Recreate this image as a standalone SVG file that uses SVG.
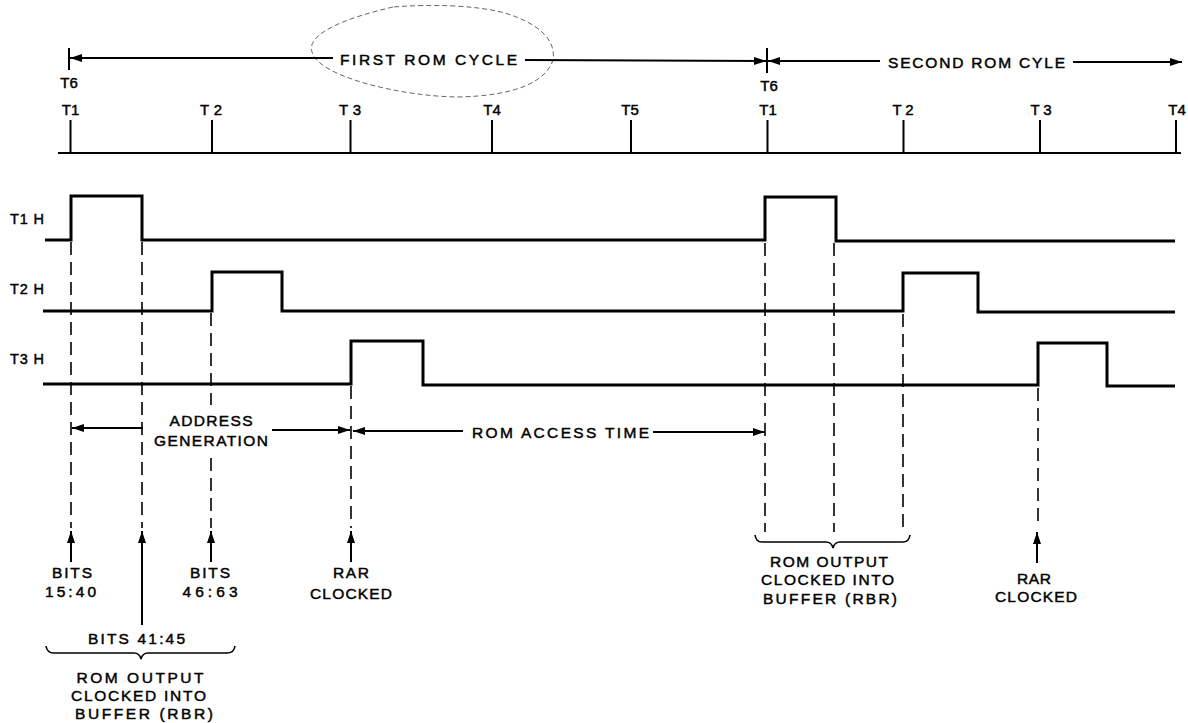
<svg xmlns="http://www.w3.org/2000/svg" width="1188" height="723" viewBox="0 0 1188 723">
<defs>
<style>
text{font-family:"Liberation Sans",Arial,sans-serif;font-size:15.5px;fill:#000;stroke:#000;stroke-width:0.45;text-anchor:middle}
.tl{font-size:15px}
.sl{font-size:14.5px;text-anchor:end}
.wave{fill:none;stroke:#000;stroke-width:3;stroke-linejoin:miter}
.ln{fill:none;stroke:#000;stroke-width:2}
.tick{fill:none;stroke:#000;stroke-width:2}
.dash{fill:none;stroke:#000;stroke-width:1.6;stroke-dasharray:13 7}
.arr{fill:none;stroke:#000;stroke-width:2;marker-end:url(#ah)}
.brace{fill:none;stroke:#000;stroke-width:1.6}
.oval{fill:none;stroke:#666;stroke-width:1;stroke-dasharray:5 3}
</style>
<marker id="ah" markerUnits="userSpaceOnUse" markerWidth="13" markerHeight="9" refX="12" refY="4.5" orient="auto" viewBox="0 0 13 9">
<path d="M0,0.5 L12,4.5 L0,8.5 Z" fill="#000"/>
</marker>
</defs>
<rect width="1188" height="723" fill="#fff"/>

<g id="cycle-header">
<path class="oval" d="M393,7 C345,18 306,34 312,52 C318,76 398,96 457,97 C515,96 546,82 553,60 C556,40 540,24 505,13 C475,5 430,4 393,7 Z"/>
<path class="tick" d="M69,48 V70 M767,48 V73"/>
<text x="428.5" y="65" textLength="177" lengthAdjust="spacing">FIRST  ROM CYCLE</text>
<text x="976.5" y="67.5" textLength="177" lengthAdjust="spacing">SECOND ROM CYLE</text>
<text class="tl" x="69" y="88">T6</text>
<text class="tl" x="769" y="90.5">T6</text>
</g>

<g id="timeline">
<path class="ln" d="M58,153 H1181" stroke-width="2.5"/>
<path class="tick" d="M70.5,120 V153 M212,120 V153 M350.5,120 V153 M492,120 V153 M631,120 V153 M767.5,120 V153 M903.5,120 V153 M1040,120 V153 M1176,120 V153"/>
<text class="tl" x="70.5" y="115">T1</text>
<text class="tl" x="211" y="115" textLength="22" lengthAdjust="spacing">T2</text>
<text class="tl" x="350" y="115" textLength="22" lengthAdjust="spacing">T3</text>
<text class="tl" x="492" y="115">T4</text>
<text class="tl" x="630" y="115">T5</text>
<text class="tl" x="768" y="115">T1</text>
<text class="tl" x="903" y="115" textLength="21" lengthAdjust="spacing">T2</text>
<text class="tl" x="1041" y="115" textLength="21" lengthAdjust="spacing">T3</text>
<text class="tl" x="1177" y="115">T4</text>
</g>

<g id="signal-t1h">
<text class="sl" x="44" y="224" textLength="34" lengthAdjust="spacing">T1 H</text>
<path class="wave" d="M45,240 H71 V196 H142 V240 H765 V197 H836 V241 H1175"/>
</g>
<g id="signal-t2h">
<text class="sl" x="44" y="294" textLength="34" lengthAdjust="spacing">T2 H</text>
<path class="wave" d="M43,311 H212 V272 H282 V311 H903 V273 H978 V312 H1175"/>
</g>
<g id="signal-t3h">
<text class="sl" x="44" y="364" textLength="34" lengthAdjust="spacing">T3 H</text>
<path class="wave" d="M43,384 H351 V341 H423 V385 H1038 V343 H1107 V386 H1175"/>
</g>

<g id="connectors">
<line class="arr" x1="333" y1="58" x2="70" y2="58"/>
<line class="arr" x1="525" y1="60" x2="766" y2="61"/>
<line class="arr" x1="880" y1="61" x2="768" y2="61"/>
<line class="arr" x1="1073" y1="62" x2="1182" y2="62"/>
<path class="dash" d="M71,242 V528 M142,242 V528 M211,313 V405 M211,458 V528 M351,386 V528 M765,243 V532 M834,243 V532 M903,314 V532 M1038,388 V528"/>
<line class="arr" x1="143" y1="428" x2="72" y2="428"/>
<line class="arr" x1="272" y1="430" x2="350" y2="430"/>
<line class="arr" x1="463" y1="431" x2="353" y2="431"/>
<line class="arr" x1="653" y1="432" x2="765" y2="432"/>
<line class="arr" x1="71" y1="562" x2="71" y2="531"/>
<line class="arr" x1="142" y1="625" x2="142" y2="531"/>
<line class="arr" x1="211" y1="562" x2="211" y2="531"/>
<line class="arr" x1="351" y1="562" x2="351" y2="531"/>
<line class="arr" x1="1037" y1="563" x2="1037" y2="532"/>
</g>

<g id="label-address-generation">
<text x="211" y="425.5" textLength="83" lengthAdjust="spacing">ADDRESS</text>
<text x="211" y="445.5" textLength="114" lengthAdjust="spacing">GENERATION</text>
</g>
<g id="label-rom-access-time">
<text x="560.5" y="437.5" textLength="177" lengthAdjust="spacing">ROM ACCESS TIME</text>
</g>

<g id="label-bits-15-40">
<text x="72" y="577.5" textLength="40" lengthAdjust="spacing">BITS</text>
<text x="70.5" y="596.5" textLength="51" lengthAdjust="spacing">15:40</text>
</g>
<g id="label-bits-46-63">
<text x="210" y="577.5" textLength="40" lengthAdjust="spacing">BITS</text>
<text x="210" y="596.5" textLength="55" lengthAdjust="spacing">46:63</text>
</g>
<g id="label-rar-clocked-1">
<text x="351" y="577.5" textLength="36" lengthAdjust="spacing">RAR</text>
<text x="351" y="598.5" textLength="82" lengthAdjust="spacing">CLOCKED</text>
</g>
<g id="label-bits-41-45">
<text x="136.5" y="643.5" textLength="97" lengthAdjust="spacing">BITS 41:45</text>
<path class="brace" d="M46,646 Q47,653 54,653 H134 Q139.5,653 141,659 Q142.5,653 148,653 H227 Q234,653 235,646"/>
</g>
<g id="label-rom-output-1">
<text x="140" y="683" textLength="127" lengthAdjust="spacing">ROM  OUTPUT</text>
<text x="138.5" y="701" textLength="135" lengthAdjust="spacing">CLOCKED INTO</text>
<text x="144" y="718.5" textLength="138" lengthAdjust="spacing">BUFFER (RBR)</text>
</g>

<g id="label-rom-output-2">
<path class="brace" d="M755,535 Q756,542 762,542 H826 Q831.5,542 833,548 Q834.5,542 840,542 H903 Q909,542 910,535"/>
<text x="829" y="566.5" textLength="118" lengthAdjust="spacing">ROM  OUTPUT</text>
<text x="827.5" y="585" textLength="133" lengthAdjust="spacing">CLOCKED INTO</text>
<text x="830" y="603.5" textLength="134" lengthAdjust="spacing">BUFFER (RBR)</text>
</g>
<g id="label-rar-clocked-2">
<text x="1034" y="583.5" textLength="34" lengthAdjust="spacing">RAR</text>
<text x="1036" y="601.5" textLength="82" lengthAdjust="spacing">CLOCKED</text>
</g>
</svg>
